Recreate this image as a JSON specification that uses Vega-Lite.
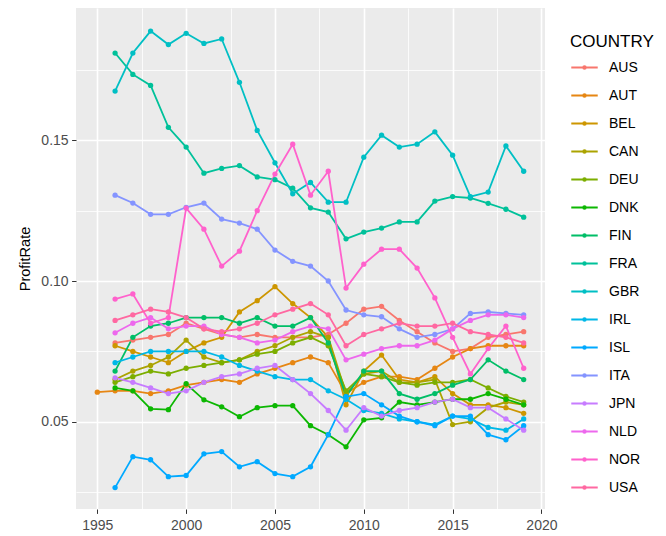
{
"$schema": "https://vega.github.io/schema/vega-lite/v6.json",
"width": 469, "height": 501,
"autosize": {"type": "none"},
"padding": {"left": 76, "top": 8, "right": 121, "bottom": 27},
"background": "white",
"config": {"view": {"fill": "#EBEBEB", "stroke": null}, "font": "Liberation Sans"},
"datasets": {"d": [
{"COUNTRY":"AUS","Year":1996,"ProfitRate":0.078},{"COUNTRY":"AUS","Year":1997,"ProfitRate":0.079},{"COUNTRY":"AUS","Year":1998,"ProfitRate":0.080},{"COUNTRY":"AUS","Year":1999,"ProfitRate":0.081},{"COUNTRY":"AUS","Year":2000,"ProfitRate":0.085},{"COUNTRY":"AUS","Year":2001,"ProfitRate":0.083},{"COUNTRY":"AUS","Year":2002,"ProfitRate":0.081},{"COUNTRY":"AUS","Year":2003,"ProfitRate":0.080},{"COUNTRY":"AUS","Year":2004,"ProfitRate":0.081},{"COUNTRY":"AUS","Year":2005,"ProfitRate":0.080},{"COUNTRY":"AUS","Year":2006,"ProfitRate":0.080},{"COUNTRY":"AUS","Year":2007,"ProfitRate":0.080},{"COUNTRY":"AUS","Year":2008,"ProfitRate":0.081},{"COUNTRY":"AUS","Year":2009,"ProfitRate":0.085},{"COUNTRY":"AUS","Year":2010,"ProfitRate":0.090},{"COUNTRY":"AUS","Year":2011,"ProfitRate":0.091},{"COUNTRY":"AUS","Year":2012,"ProfitRate":0.086},{"COUNTRY":"AUS","Year":2013,"ProfitRate":0.082},{"COUNTRY":"AUS","Year":2014,"ProfitRate":0.078},{"COUNTRY":"AUS","Year":2015,"ProfitRate":0.075},{"COUNTRY":"AUS","Year":2016,"ProfitRate":0.076},{"COUNTRY":"AUS","Year":2017,"ProfitRate":0.080},{"COUNTRY":"AUS","Year":2018,"ProfitRate":0.081},{"COUNTRY":"AUS","Year":2019,"ProfitRate":0.082},
{"COUNTRY":"AUT","Year":1995,"ProfitRate":0.0605},{"COUNTRY":"AUT","Year":1996,"ProfitRate":0.061},{"COUNTRY":"AUT","Year":1997,"ProfitRate":0.061},{"COUNTRY":"AUT","Year":1998,"ProfitRate":0.060},{"COUNTRY":"AUT","Year":1999,"ProfitRate":0.061},{"COUNTRY":"AUT","Year":2000,"ProfitRate":0.063},{"COUNTRY":"AUT","Year":2001,"ProfitRate":0.064},{"COUNTRY":"AUT","Year":2002,"ProfitRate":0.065},{"COUNTRY":"AUT","Year":2003,"ProfitRate":0.064},{"COUNTRY":"AUT","Year":2004,"ProfitRate":0.067},{"COUNTRY":"AUT","Year":2005,"ProfitRate":0.069},{"COUNTRY":"AUT","Year":2006,"ProfitRate":0.071},{"COUNTRY":"AUT","Year":2007,"ProfitRate":0.073},{"COUNTRY":"AUT","Year":2008,"ProfitRate":0.071},{"COUNTRY":"AUT","Year":2009,"ProfitRate":0.060},{"COUNTRY":"AUT","Year":2010,"ProfitRate":0.064},{"COUNTRY":"AUT","Year":2011,"ProfitRate":0.066},{"COUNTRY":"AUT","Year":2012,"ProfitRate":0.066},{"COUNTRY":"AUT","Year":2013,"ProfitRate":0.065},{"COUNTRY":"AUT","Year":2014,"ProfitRate":0.069},{"COUNTRY":"AUT","Year":2015,"ProfitRate":0.073},{"COUNTRY":"AUT","Year":2016,"ProfitRate":0.076},{"COUNTRY":"AUT","Year":2017,"ProfitRate":0.077},{"COUNTRY":"AUT","Year":2018,"ProfitRate":0.077},{"COUNTRY":"AUT","Year":2019,"ProfitRate":0.077},
{"COUNTRY":"BEL","Year":1996,"ProfitRate":0.077},{"COUNTRY":"BEL","Year":1997,"ProfitRate":0.075},{"COUNTRY":"BEL","Year":1998,"ProfitRate":0.073},{"COUNTRY":"BEL","Year":1999,"ProfitRate":0.071},{"COUNTRY":"BEL","Year":2000,"ProfitRate":0.075},{"COUNTRY":"BEL","Year":2001,"ProfitRate":0.078},{"COUNTRY":"BEL","Year":2002,"ProfitRate":0.080},{"COUNTRY":"BEL","Year":2003,"ProfitRate":0.089},{"COUNTRY":"BEL","Year":2004,"ProfitRate":0.093},{"COUNTRY":"BEL","Year":2005,"ProfitRate":0.098},{"COUNTRY":"BEL","Year":2006,"ProfitRate":0.092},{"COUNTRY":"BEL","Year":2007,"ProfitRate":0.087},{"COUNTRY":"BEL","Year":2008,"ProfitRate":0.080},{"COUNTRY":"BEL","Year":2009,"ProfitRate":0.056},{"COUNTRY":"BEL","Year":2010,"ProfitRate":0.068},{"COUNTRY":"BEL","Year":2011,"ProfitRate":0.0737},{"COUNTRY":"BEL","Year":2012,"ProfitRate":0.065},{"COUNTRY":"BEL","Year":2013,"ProfitRate":0.064},{"COUNTRY":"BEL","Year":2014,"ProfitRate":0.066},{"COUNTRY":"BEL","Year":2015,"ProfitRate":0.060},{"COUNTRY":"BEL","Year":2016,"ProfitRate":0.056},{"COUNTRY":"BEL","Year":2017,"ProfitRate":0.056},{"COUNTRY":"BEL","Year":2018,"ProfitRate":0.055},{"COUNTRY":"BEL","Year":2019,"ProfitRate":0.053},
{"COUNTRY":"CAN","Year":1996,"ProfitRate":0.065},{"COUNTRY":"CAN","Year":1997,"ProfitRate":0.068},{"COUNTRY":"CAN","Year":1998,"ProfitRate":0.070},{"COUNTRY":"CAN","Year":1999,"ProfitRate":0.073},{"COUNTRY":"CAN","Year":2000,"ProfitRate":0.079},{"COUNTRY":"CAN","Year":2001,"ProfitRate":0.073},{"COUNTRY":"CAN","Year":2002,"ProfitRate":0.071},{"COUNTRY":"CAN","Year":2003,"ProfitRate":0.072},{"COUNTRY":"CAN","Year":2004,"ProfitRate":0.075},{"COUNTRY":"CAN","Year":2005,"ProfitRate":0.077},{"COUNTRY":"CAN","Year":2006,"ProfitRate":0.080},{"COUNTRY":"CAN","Year":2007,"ProfitRate":0.082},{"COUNTRY":"CAN","Year":2008,"ProfitRate":0.080},{"COUNTRY":"CAN","Year":2009,"ProfitRate":0.060},{"COUNTRY":"CAN","Year":2010,"ProfitRate":0.067},{"COUNTRY":"CAN","Year":2011,"ProfitRate":0.068},{"COUNTRY":"CAN","Year":2012,"ProfitRate":0.064},{"COUNTRY":"CAN","Year":2013,"ProfitRate":0.064},{"COUNTRY":"CAN","Year":2014,"ProfitRate":0.065},{"COUNTRY":"CAN","Year":2015,"ProfitRate":0.049},{"COUNTRY":"CAN","Year":2016,"ProfitRate":0.050},{"COUNTRY":"CAN","Year":2017,"ProfitRate":0.055},{"COUNTRY":"CAN","Year":2018,"ProfitRate":0.057},{"COUNTRY":"CAN","Year":2019,"ProfitRate":0.056},
{"COUNTRY":"DEU","Year":1996,"ProfitRate":0.064},{"COUNTRY":"DEU","Year":1997,"ProfitRate":0.066},{"COUNTRY":"DEU","Year":1998,"ProfitRate":0.068},{"COUNTRY":"DEU","Year":1999,"ProfitRate":0.067},{"COUNTRY":"DEU","Year":2000,"ProfitRate":0.069},{"COUNTRY":"DEU","Year":2001,"ProfitRate":0.070},{"COUNTRY":"DEU","Year":2002,"ProfitRate":0.071},{"COUNTRY":"DEU","Year":2003,"ProfitRate":0.072},{"COUNTRY":"DEU","Year":2004,"ProfitRate":0.074},{"COUNTRY":"DEU","Year":2005,"ProfitRate":0.075},{"COUNTRY":"DEU","Year":2006,"ProfitRate":0.078},{"COUNTRY":"DEU","Year":2007,"ProfitRate":0.080},{"COUNTRY":"DEU","Year":2008,"ProfitRate":0.077},{"COUNTRY":"DEU","Year":2009,"ProfitRate":0.061},{"COUNTRY":"DEU","Year":2010,"ProfitRate":0.067},{"COUNTRY":"DEU","Year":2011,"ProfitRate":0.066},{"COUNTRY":"DEU","Year":2012,"ProfitRate":0.064},{"COUNTRY":"DEU","Year":2013,"ProfitRate":0.063},{"COUNTRY":"DEU","Year":2014,"ProfitRate":0.064},{"COUNTRY":"DEU","Year":2015,"ProfitRate":0.064},{"COUNTRY":"DEU","Year":2016,"ProfitRate":0.065},{"COUNTRY":"DEU","Year":2017,"ProfitRate":0.062},{"COUNTRY":"DEU","Year":2018,"ProfitRate":0.059},{"COUNTRY":"DEU","Year":2019,"ProfitRate":0.057},
{"COUNTRY":"DNK","Year":1996,"ProfitRate":0.062},{"COUNTRY":"DNK","Year":1997,"ProfitRate":0.061},{"COUNTRY":"DNK","Year":1998,"ProfitRate":0.0546},{"COUNTRY":"DNK","Year":1999,"ProfitRate":0.0543},{"COUNTRY":"DNK","Year":2000,"ProfitRate":0.0635},{"COUNTRY":"DNK","Year":2001,"ProfitRate":0.0578},{"COUNTRY":"DNK","Year":2002,"ProfitRate":0.0553},{"COUNTRY":"DNK","Year":2003,"ProfitRate":0.0518},{"COUNTRY":"DNK","Year":2004,"ProfitRate":0.055},{"COUNTRY":"DNK","Year":2005,"ProfitRate":0.0557},{"COUNTRY":"DNK","Year":2006,"ProfitRate":0.0557},{"COUNTRY":"DNK","Year":2007,"ProfitRate":0.0486},{"COUNTRY":"DNK","Year":2008,"ProfitRate":0.0454},{"COUNTRY":"DNK","Year":2009,"ProfitRate":0.0411},{"COUNTRY":"DNK","Year":2010,"ProfitRate":0.0507},{"COUNTRY":"DNK","Year":2011,"ProfitRate":0.0514},{"COUNTRY":"DNK","Year":2012,"ProfitRate":0.057},{"COUNTRY":"DNK","Year":2013,"ProfitRate":0.056},{"COUNTRY":"DNK","Year":2014,"ProfitRate":0.057},{"COUNTRY":"DNK","Year":2015,"ProfitRate":0.058},{"COUNTRY":"DNK","Year":2016,"ProfitRate":0.058},{"COUNTRY":"DNK","Year":2017,"ProfitRate":0.060},{"COUNTRY":"DNK","Year":2018,"ProfitRate":0.058},{"COUNTRY":"DNK","Year":2019,"ProfitRate":0.056},
{"COUNTRY":"FIN","Year":1996,"ProfitRate":0.068},{"COUNTRY":"FIN","Year":1997,"ProfitRate":0.080},{"COUNTRY":"FIN","Year":1998,"ProfitRate":0.084},{"COUNTRY":"FIN","Year":1999,"ProfitRate":0.085},{"COUNTRY":"FIN","Year":2000,"ProfitRate":0.087},{"COUNTRY":"FIN","Year":2001,"ProfitRate":0.087},{"COUNTRY":"FIN","Year":2002,"ProfitRate":0.087},{"COUNTRY":"FIN","Year":2003,"ProfitRate":0.085},{"COUNTRY":"FIN","Year":2004,"ProfitRate":0.087},{"COUNTRY":"FIN","Year":2005,"ProfitRate":0.084},{"COUNTRY":"FIN","Year":2006,"ProfitRate":0.084},{"COUNTRY":"FIN","Year":2007,"ProfitRate":0.087},{"COUNTRY":"FIN","Year":2008,"ProfitRate":0.078},{"COUNTRY":"FIN","Year":2009,"ProfitRate":0.059},{"COUNTRY":"FIN","Year":2010,"ProfitRate":0.068},{"COUNTRY":"FIN","Year":2011,"ProfitRate":0.068},{"COUNTRY":"FIN","Year":2012,"ProfitRate":0.060},{"COUNTRY":"FIN","Year":2013,"ProfitRate":0.058},{"COUNTRY":"FIN","Year":2014,"ProfitRate":0.060},{"COUNTRY":"FIN","Year":2015,"ProfitRate":0.063},{"COUNTRY":"FIN","Year":2016,"ProfitRate":0.065},{"COUNTRY":"FIN","Year":2017,"ProfitRate":0.072},{"COUNTRY":"FIN","Year":2018,"ProfitRate":0.068},{"COUNTRY":"FIN","Year":2019,"ProfitRate":0.065},
{"COUNTRY":"FRA","Year":1996,"ProfitRate":0.181},{"COUNTRY":"FRA","Year":1997,"ProfitRate":0.1734},{"COUNTRY":"FRA","Year":1998,"ProfitRate":0.1695},{"COUNTRY":"FRA","Year":1999,"ProfitRate":0.1546},{"COUNTRY":"FRA","Year":2000,"ProfitRate":0.1476},{"COUNTRY":"FRA","Year":2001,"ProfitRate":0.1383},{"COUNTRY":"FRA","Year":2002,"ProfitRate":0.140},{"COUNTRY":"FRA","Year":2003,"ProfitRate":0.141},{"COUNTRY":"FRA","Year":2004,"ProfitRate":0.137},{"COUNTRY":"FRA","Year":2005,"ProfitRate":0.136},{"COUNTRY":"FRA","Year":2006,"ProfitRate":0.133},{"COUNTRY":"FRA","Year":2007,"ProfitRate":0.126},{"COUNTRY":"FRA","Year":2008,"ProfitRate":0.1245},{"COUNTRY":"FRA","Year":2009,"ProfitRate":0.115},{"COUNTRY":"FRA","Year":2010,"ProfitRate":0.1174},{"COUNTRY":"FRA","Year":2011,"ProfitRate":0.1188},{"COUNTRY":"FRA","Year":2012,"ProfitRate":0.121},{"COUNTRY":"FRA","Year":2013,"ProfitRate":0.121},{"COUNTRY":"FRA","Year":2014,"ProfitRate":0.1284},{"COUNTRY":"FRA","Year":2015,"ProfitRate":0.130},{"COUNTRY":"FRA","Year":2016,"ProfitRate":0.1295},{"COUNTRY":"FRA","Year":2017,"ProfitRate":0.1276},{"COUNTRY":"FRA","Year":2018,"ProfitRate":0.1255},{"COUNTRY":"FRA","Year":2019,"ProfitRate":0.1227},
{"COUNTRY":"GBR","Year":1996,"ProfitRate":0.1675},{"COUNTRY":"GBR","Year":1997,"ProfitRate":0.181},{"COUNTRY":"GBR","Year":1998,"ProfitRate":0.1888},{"COUNTRY":"GBR","Year":1999,"ProfitRate":0.184},{"COUNTRY":"GBR","Year":2000,"ProfitRate":0.188},{"COUNTRY":"GBR","Year":2001,"ProfitRate":0.1844},{"COUNTRY":"GBR","Year":2002,"ProfitRate":0.186},{"COUNTRY":"GBR","Year":2003,"ProfitRate":0.1706},{"COUNTRY":"GBR","Year":2004,"ProfitRate":0.1535},{"COUNTRY":"GBR","Year":2005,"ProfitRate":0.142},{"COUNTRY":"GBR","Year":2006,"ProfitRate":0.131},{"COUNTRY":"GBR","Year":2007,"ProfitRate":0.135},{"COUNTRY":"GBR","Year":2008,"ProfitRate":0.128},{"COUNTRY":"GBR","Year":2009,"ProfitRate":0.128},{"COUNTRY":"GBR","Year":2010,"ProfitRate":0.144},{"COUNTRY":"GBR","Year":2011,"ProfitRate":0.1518},{"COUNTRY":"GBR","Year":2012,"ProfitRate":0.1476},{"COUNTRY":"GBR","Year":2013,"ProfitRate":0.1486},{"COUNTRY":"GBR","Year":2014,"ProfitRate":0.153},{"COUNTRY":"GBR","Year":2015,"ProfitRate":0.1447},{"COUNTRY":"GBR","Year":2016,"ProfitRate":0.130},{"COUNTRY":"GBR","Year":2017,"ProfitRate":0.1316},{"COUNTRY":"GBR","Year":2018,"ProfitRate":0.148},{"COUNTRY":"GBR","Year":2019,"ProfitRate":0.139},
{"COUNTRY":"IRL","Year":1996,"ProfitRate":0.071},{"COUNTRY":"IRL","Year":1997,"ProfitRate":0.073},{"COUNTRY":"IRL","Year":1998,"ProfitRate":0.075},{"COUNTRY":"IRL","Year":1999,"ProfitRate":0.075},{"COUNTRY":"IRL","Year":2000,"ProfitRate":0.075},{"COUNTRY":"IRL","Year":2001,"ProfitRate":0.075},{"COUNTRY":"IRL","Year":2002,"ProfitRate":0.073},{"COUNTRY":"IRL","Year":2003,"ProfitRate":0.070},{"COUNTRY":"IRL","Year":2004,"ProfitRate":0.068},{"COUNTRY":"IRL","Year":2005,"ProfitRate":0.066},{"COUNTRY":"IRL","Year":2006,"ProfitRate":0.065},{"COUNTRY":"IRL","Year":2007,"ProfitRate":0.065},{"COUNTRY":"IRL","Year":2008,"ProfitRate":0.061},{"COUNTRY":"IRL","Year":2009,"ProfitRate":0.058},{"COUNTRY":"IRL","Year":2010,"ProfitRate":0.054},{"COUNTRY":"IRL","Year":2011,"ProfitRate":0.053},{"COUNTRY":"IRL","Year":2012,"ProfitRate":0.051},{"COUNTRY":"IRL","Year":2013,"ProfitRate":0.050},{"COUNTRY":"IRL","Year":2014,"ProfitRate":0.049},{"COUNTRY":"IRL","Year":2015,"ProfitRate":0.052},{"COUNTRY":"IRL","Year":2016,"ProfitRate":0.051},{"COUNTRY":"IRL","Year":2017,"ProfitRate":0.048},{"COUNTRY":"IRL","Year":2018,"ProfitRate":0.047},{"COUNTRY":"IRL","Year":2019,"ProfitRate":0.051},
{"COUNTRY":"ISL","Year":1996,"ProfitRate":0.0266},{"COUNTRY":"ISL","Year":1997,"ProfitRate":0.0376},{"COUNTRY":"ISL","Year":1998,"ProfitRate":0.0365},{"COUNTRY":"ISL","Year":1999,"ProfitRate":0.0305},{"COUNTRY":"ISL","Year":2000,"ProfitRate":0.0309},{"COUNTRY":"ISL","Year":2001,"ProfitRate":0.0386},{"COUNTRY":"ISL","Year":2002,"ProfitRate":0.0394},{"COUNTRY":"ISL","Year":2003,"ProfitRate":0.034},{"COUNTRY":"ISL","Year":2004,"ProfitRate":0.0358},{"COUNTRY":"ISL","Year":2005,"ProfitRate":0.0316},{"COUNTRY":"ISL","Year":2006,"ProfitRate":0.0305},{"COUNTRY":"ISL","Year":2007,"ProfitRate":0.034},{"COUNTRY":"ISL","Year":2008,"ProfitRate":0.0454},{"COUNTRY":"ISL","Year":2009,"ProfitRate":0.0589},{"COUNTRY":"ISL","Year":2010,"ProfitRate":0.060},{"COUNTRY":"ISL","Year":2011,"ProfitRate":0.056},{"COUNTRY":"ISL","Year":2012,"ProfitRate":0.052},{"COUNTRY":"ISL","Year":2013,"ProfitRate":0.050},{"COUNTRY":"ISL","Year":2014,"ProfitRate":0.0486},{"COUNTRY":"ISL","Year":2015,"ProfitRate":0.052},{"COUNTRY":"ISL","Year":2016,"ProfitRate":0.052},{"COUNTRY":"ISL","Year":2017,"ProfitRate":0.0454},{"COUNTRY":"ISL","Year":2018,"ProfitRate":0.0436},{"COUNTRY":"ISL","Year":2019,"ProfitRate":0.0486},
{"COUNTRY":"ITA","Year":1996,"ProfitRate":0.1305},{"COUNTRY":"ITA","Year":1997,"ProfitRate":0.1277},{"COUNTRY":"ITA","Year":1998,"ProfitRate":0.1237},{"COUNTRY":"ITA","Year":1999,"ProfitRate":0.1237},{"COUNTRY":"ITA","Year":2000,"ProfitRate":0.1262},{"COUNTRY":"ITA","Year":2001,"ProfitRate":0.1277},{"COUNTRY":"ITA","Year":2002,"ProfitRate":0.122},{"COUNTRY":"ITA","Year":2003,"ProfitRate":0.1206},{"COUNTRY":"ITA","Year":2004,"ProfitRate":0.1184},{"COUNTRY":"ITA","Year":2005,"ProfitRate":0.111},{"COUNTRY":"ITA","Year":2006,"ProfitRate":0.107},{"COUNTRY":"ITA","Year":2007,"ProfitRate":0.1053},{"COUNTRY":"ITA","Year":2008,"ProfitRate":0.100},{"COUNTRY":"ITA","Year":2009,"ProfitRate":0.0897},{"COUNTRY":"ITA","Year":2010,"ProfitRate":0.088},{"COUNTRY":"ITA","Year":2011,"ProfitRate":0.0873},{"COUNTRY":"ITA","Year":2012,"ProfitRate":0.083},{"COUNTRY":"ITA","Year":2013,"ProfitRate":0.080},{"COUNTRY":"ITA","Year":2014,"ProfitRate":0.081},{"COUNTRY":"ITA","Year":2015,"ProfitRate":0.083},{"COUNTRY":"ITA","Year":2016,"ProfitRate":0.0885},{"COUNTRY":"ITA","Year":2017,"ProfitRate":0.089},{"COUNTRY":"ITA","Year":2018,"ProfitRate":0.0885},{"COUNTRY":"ITA","Year":2019,"ProfitRate":0.088},
{"COUNTRY":"JPN","Year":1996,"ProfitRate":0.0656},{"COUNTRY":"JPN","Year":1997,"ProfitRate":0.064},{"COUNTRY":"JPN","Year":1998,"ProfitRate":0.062},{"COUNTRY":"JPN","Year":1999,"ProfitRate":0.060},{"COUNTRY":"JPN","Year":2000,"ProfitRate":0.061},{"COUNTRY":"JPN","Year":2001,"ProfitRate":0.064},{"COUNTRY":"JPN","Year":2002,"ProfitRate":0.066},{"COUNTRY":"JPN","Year":2003,"ProfitRate":0.067},{"COUNTRY":"JPN","Year":2004,"ProfitRate":0.069},{"COUNTRY":"JPN","Year":2005,"ProfitRate":0.070},{"COUNTRY":"JPN","Year":2006,"ProfitRate":0.065},{"COUNTRY":"JPN","Year":2007,"ProfitRate":0.060},{"COUNTRY":"JPN","Year":2008,"ProfitRate":0.054},{"COUNTRY":"JPN","Year":2009,"ProfitRate":0.047},{"COUNTRY":"JPN","Year":2010,"ProfitRate":0.055},{"COUNTRY":"JPN","Year":2011,"ProfitRate":0.052},{"COUNTRY":"JPN","Year":2012,"ProfitRate":0.054},{"COUNTRY":"JPN","Year":2013,"ProfitRate":0.055},{"COUNTRY":"JPN","Year":2014,"ProfitRate":0.057},{"COUNTRY":"JPN","Year":2015,"ProfitRate":0.058},{"COUNTRY":"JPN","Year":2016,"ProfitRate":0.055},{"COUNTRY":"JPN","Year":2017,"ProfitRate":0.055},{"COUNTRY":"JPN","Year":2018,"ProfitRate":0.051},{"COUNTRY":"JPN","Year":2019,"ProfitRate":0.047},
{"COUNTRY":"NLD","Year":1996,"ProfitRate":0.0816},{"COUNTRY":"NLD","Year":1997,"ProfitRate":0.085},{"COUNTRY":"NLD","Year":1998,"ProfitRate":0.087},{"COUNTRY":"NLD","Year":1999,"ProfitRate":0.083},{"COUNTRY":"NLD","Year":2000,"ProfitRate":0.084},{"COUNTRY":"NLD","Year":2001,"ProfitRate":0.084},{"COUNTRY":"NLD","Year":2002,"ProfitRate":0.081},{"COUNTRY":"NLD","Year":2003,"ProfitRate":0.080},{"COUNTRY":"NLD","Year":2004,"ProfitRate":0.078},{"COUNTRY":"NLD","Year":2005,"ProfitRate":0.079},{"COUNTRY":"NLD","Year":2006,"ProfitRate":0.082},{"COUNTRY":"NLD","Year":2007,"ProfitRate":0.084},{"COUNTRY":"NLD","Year":2008,"ProfitRate":0.083},{"COUNTRY":"NLD","Year":2009,"ProfitRate":0.072},{"COUNTRY":"NLD","Year":2010,"ProfitRate":0.074},{"COUNTRY":"NLD","Year":2011,"ProfitRate":0.076},{"COUNTRY":"NLD","Year":2012,"ProfitRate":0.077},{"COUNTRY":"NLD","Year":2013,"ProfitRate":0.077},{"COUNTRY":"NLD","Year":2014,"ProfitRate":0.079},{"COUNTRY":"NLD","Year":2015,"ProfitRate":0.083},{"COUNTRY":"NLD","Year":2016,"ProfitRate":0.086},{"COUNTRY":"NLD","Year":2017,"ProfitRate":0.088},{"COUNTRY":"NLD","Year":2018,"ProfitRate":0.088},{"COUNTRY":"NLD","Year":2019,"ProfitRate":0.087},
{"COUNTRY":"NOR","Year":1996,"ProfitRate":0.0936},{"COUNTRY":"NOR","Year":1997,"ProfitRate":0.0954},{"COUNTRY":"NOR","Year":1998,"ProfitRate":0.085},{"COUNTRY":"NOR","Year":1999,"ProfitRate":0.087},{"COUNTRY":"NOR","Year":2000,"ProfitRate":0.1259},{"COUNTRY":"NOR","Year":2001,"ProfitRate":0.1184},{"COUNTRY":"NOR","Year":2002,"ProfitRate":0.1053},{"COUNTRY":"NOR","Year":2003,"ProfitRate":0.1106},{"COUNTRY":"NOR","Year":2004,"ProfitRate":0.125},{"COUNTRY":"NOR","Year":2005,"ProfitRate":0.138},{"COUNTRY":"NOR","Year":2006,"ProfitRate":0.1486},{"COUNTRY":"NOR","Year":2007,"ProfitRate":0.1305},{"COUNTRY":"NOR","Year":2008,"ProfitRate":0.139},{"COUNTRY":"NOR","Year":2009,"ProfitRate":0.0975},{"COUNTRY":"NOR","Year":2010,"ProfitRate":0.106},{"COUNTRY":"NOR","Year":2011,"ProfitRate":0.1113},{"COUNTRY":"NOR","Year":2012,"ProfitRate":0.1113},{"COUNTRY":"NOR","Year":2013,"ProfitRate":0.1046},{"COUNTRY":"NOR","Year":2014,"ProfitRate":0.094},{"COUNTRY":"NOR","Year":2015,"ProfitRate":0.080},{"COUNTRY":"NOR","Year":2016,"ProfitRate":0.067},{"COUNTRY":"NOR","Year":2017,"ProfitRate":0.076},{"COUNTRY":"NOR","Year":2018,"ProfitRate":0.084},{"COUNTRY":"NOR","Year":2019,"ProfitRate":0.069},
{"COUNTRY":"USA","Year":1996,"ProfitRate":0.086},{"COUNTRY":"USA","Year":1997,"ProfitRate":0.088},{"COUNTRY":"USA","Year":1998,"ProfitRate":0.090},{"COUNTRY":"USA","Year":1999,"ProfitRate":0.089},{"COUNTRY":"USA","Year":2000,"ProfitRate":0.087},{"COUNTRY":"USA","Year":2001,"ProfitRate":0.083},{"COUNTRY":"USA","Year":2002,"ProfitRate":0.082},{"COUNTRY":"USA","Year":2003,"ProfitRate":0.083},{"COUNTRY":"USA","Year":2004,"ProfitRate":0.085},{"COUNTRY":"USA","Year":2005,"ProfitRate":0.088},{"COUNTRY":"USA","Year":2006,"ProfitRate":0.090},{"COUNTRY":"USA","Year":2007,"ProfitRate":0.092},{"COUNTRY":"USA","Year":2008,"ProfitRate":0.088},{"COUNTRY":"USA","Year":2009,"ProfitRate":0.077},{"COUNTRY":"USA","Year":2010,"ProfitRate":0.081},{"COUNTRY":"USA","Year":2011,"ProfitRate":0.083},{"COUNTRY":"USA","Year":2012,"ProfitRate":0.085},{"COUNTRY":"USA","Year":2013,"ProfitRate":0.084},{"COUNTRY":"USA","Year":2014,"ProfitRate":0.084},{"COUNTRY":"USA","Year":2015,"ProfitRate":0.085},{"COUNTRY":"USA","Year":2016,"ProfitRate":0.082},{"COUNTRY":"USA","Year":2017,"ProfitRate":0.081},{"COUNTRY":"USA","Year":2018,"ProfitRate":0.080},{"COUNTRY":"USA","Year":2019,"ProfitRate":0.078}
]},
"data": {"name": "d"},
"mark": {"type": "line", "strokeWidth": 1.8, "point": {"filled": true, "size": 28}},
"encoding": {
  "x": {"field": "Year", "type": "quantitative",
    "scale": {"domain": [1993.8, 2020.2], "nice": false, "zero": false},
    "axis": {"title": null, "values": [1995, 1997.5, 2000, 2002.5, 2005, 2007.5, 2010, 2012.5, 2015, 2017.5, 2020],
      "labelExpr": "datum.value % 5 === 0 ? format(datum.value, 'd') : ''",
      "grid": true, "gridColor": "white",
      "gridWidth": {"condition": {"test": "datum.value % 5 === 0", "value": 1.6}, "value": 0.8},
      "domain": false,
      "ticks": true, "tickSize": 4.4, "tickWidth": 1,
      "tickColor": {"condition": {"test": "datum.value % 5 === 0", "value": "#333333"}, "value": "transparent"},
      "labelColor": "#4D4D4D", "labelFontSize": 14, "labelPadding": 5, "labelFlush": false, "labelOverlap": false}},
  "y": {"field": "ProfitRate", "type": "quantitative",
    "scale": {"domain": [0.019, 0.197], "nice": false, "zero": false},
    "axis": {"title": "ProfitRate", "values": [0.025, 0.05, 0.075, 0.1, 0.125, 0.15, 0.175],
      "labelExpr": "(datum.value === 0.05 || datum.value === 0.1 || datum.value === 0.15) ? format(datum.value, '.2f') : ''",
      "grid": true, "gridColor": "white",
      "gridWidth": {"condition": {"test": "datum.value === 0.05 || datum.value === 0.1 || datum.value === 0.15", "value": 1.6}, "value": 0.8},
      "domain": false,
      "tickSize": 4.4, "tickWidth": 1,
      "tickColor": {"condition": {"test": "datum.value === 0.05 || datum.value === 0.1 || datum.value === 0.15", "value": "#333333"}, "value": "transparent"},
      "labelColor": "#4D4D4D", "labelFontSize": 14, "labelPadding": 3.5, "labelOverlap": false,
      "titleFontSize": 14.5, "titleFontWeight": "normal", "titleColor": "#000000", "titlePadding": 8}},
  "color": {"field": "COUNTRY", "type": "nominal", "title": "COUNTRY",
    "scale": {"domain": ["AUS","AUT","BEL","CAN","DEU","DNK","FIN","FRA","GBR","IRL","ISL","ITA","JPN","NLD","NOR","USA"],
      "range": ["#F8766D","#E68613","#CD9600","#ABA300","#7CAE00","#0CB702","#00BE67","#00C19A","#00BFC4","#00B8E7","#00A9FF","#8494FF","#C77CFF","#ED68ED","#FF61CC","#FF68A1"]},
    "legend": {"orient": "none", "legendX": 494, "legendY": 26,
      "titleFontSize": 17, "titleFontWeight": "normal", "titleColor": "#000000", "titlePadding": 2,
      "labelFontSize": 14, "labelColor": "#000000", "labelOffset": 10,
      "symbolType": "M-1,0H1M-0.1,0A0.1,0.1,0,1,1,0.1,0A0.1,0.1,0,1,1,-0.1,0",
      "symbolSize": 700, "symbolStrokeWidth": 1.8, "rowPadding": 6}}
}
}
